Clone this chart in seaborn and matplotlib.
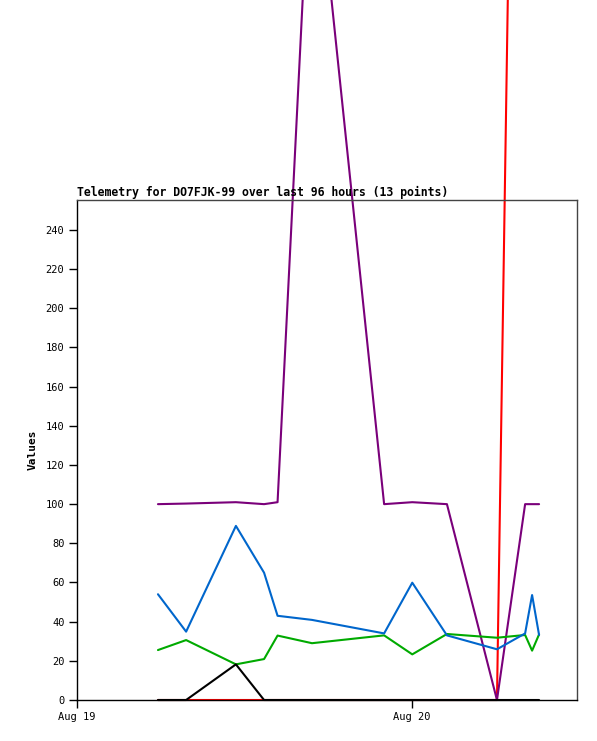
import pandas as pd
import seaborn as sns
import matplotlib
matplotlib.use("Agg")
import matplotlib.pyplot as plt
import matplotlib.dates as mdates

# telemetry samples (13 points)
times = ["2024-08-19 05:48", "2024-08-19 07:49", "2024-08-19 11:23", "2024-08-19 13:24",
         "2024-08-19 14:22", "2024-08-19 16:50", "2024-08-19 22:00", "2024-08-20 00:01",
         "2024-08-20 02:30", "2024-08-20 06:05", "2024-08-20 08:06", "2024-08-20 08:36",
         "2024-08-20 09:06"]
ch_red = [0, 0, 0, 0, 0, 0, 0, 0, 0, 0, 930, 930, 930]
ch_purple = [100, 100.3, 101, 100, 101, 453, 100, 101, 100, 0, 100, 100, 100]
ch_green = [25.5, 30.6, 18.2, 20.9, 32.9, 29, 33, 23.3, 33.7, 31.8, 33.2, 25.2, 33.5]
ch_blue = [54, 34.9, 88.9, 65, 43, 40.9, 34, 59.9, 33, 25.9, 34, 53.6, 33.2]
ch_black = [0, 0, 18.2, 0, 0, 0, 0, 0, 0, 0, 0, 0, 0]

title = "Telemetry for DO7FJK-99 over last 96 hours (13 points)"
x_ticks = ["2024-08-19", "2024-08-20"]
x_range = ["2024-08-19 00:00", "2024-08-20 11:49"]
y_ticks = list(range(0, 241, 20))

series = {"red": ch_red, "purple": ch_purple, "green": ch_green,
          "blue": ch_blue, "black": ch_black}
colors = {"red": "#ff0000", "purple": "#7a007a", "green": "#00aa00",
          "blue": "#0066cc", "black": "#000000"}

rows = []
for name, vals in series.items():
    for t, v in zip(times, vals):
        rows.append({"time": pd.to_datetime(t), "value": v, "ch": name})
df = pd.DataFrame(rows)

sns.set_style("white")
plt.rcParams['font.family'] = ['DejaVu Sans Mono']
plt.rcParams['text.color'] = 'black'
plt.rcParams['axes.labelcolor'] = 'black'
plt.rcParams['xtick.color'] = 'black'
plt.rcParams['ytick.color'] = 'black'

fig = plt.figure(figsize=(5.97, 7.41), dpi=100)
ax = fig.add_axes([77/597, 1-700/741, 500/597, 500/741])

sns.lineplot(data=df, x="time", y="value", hue="ch", hue_order=list(series.keys()),
             palette=colors, linewidth=1.5, legend=False, estimator=None,
             sort=False, clip_on=False, ax=ax)

ax.set_xlim(pd.to_datetime(x_range[0]), pd.to_datetime(x_range[1]))
ax.set_ylim(0, 255.3)
ax.set_xticks(pd.to_datetime(x_ticks))
ax.xaxis.set_major_formatter(mdates.DateFormatter("%b %d"))
ax.set_yticks(y_ticks)
ax.tick_params(axis="both", direction="out", length=6, width=1, color="black",
               labelcolor="black", labelsize=7.5, pad=3, left=True, bottom=True)

for s in ["left", "bottom"]:
    ax.spines[s].set_color("black")
    ax.spines[s].set_linewidth(1)
for s in ["top", "right"]:
    ax.spines[s].set_color("#444444")
    ax.spines[s].set_linewidth(1)

ax.set_xlabel("")
ax.set_ylabel("Values", fontsize=8, fontweight="bold", color="black", labelpad=6)
ax.set_title(title, loc="left", fontsize=8.3, fontweight="bold", color="black", pad=3)

fig.savefig("out.png", dpi=100)
